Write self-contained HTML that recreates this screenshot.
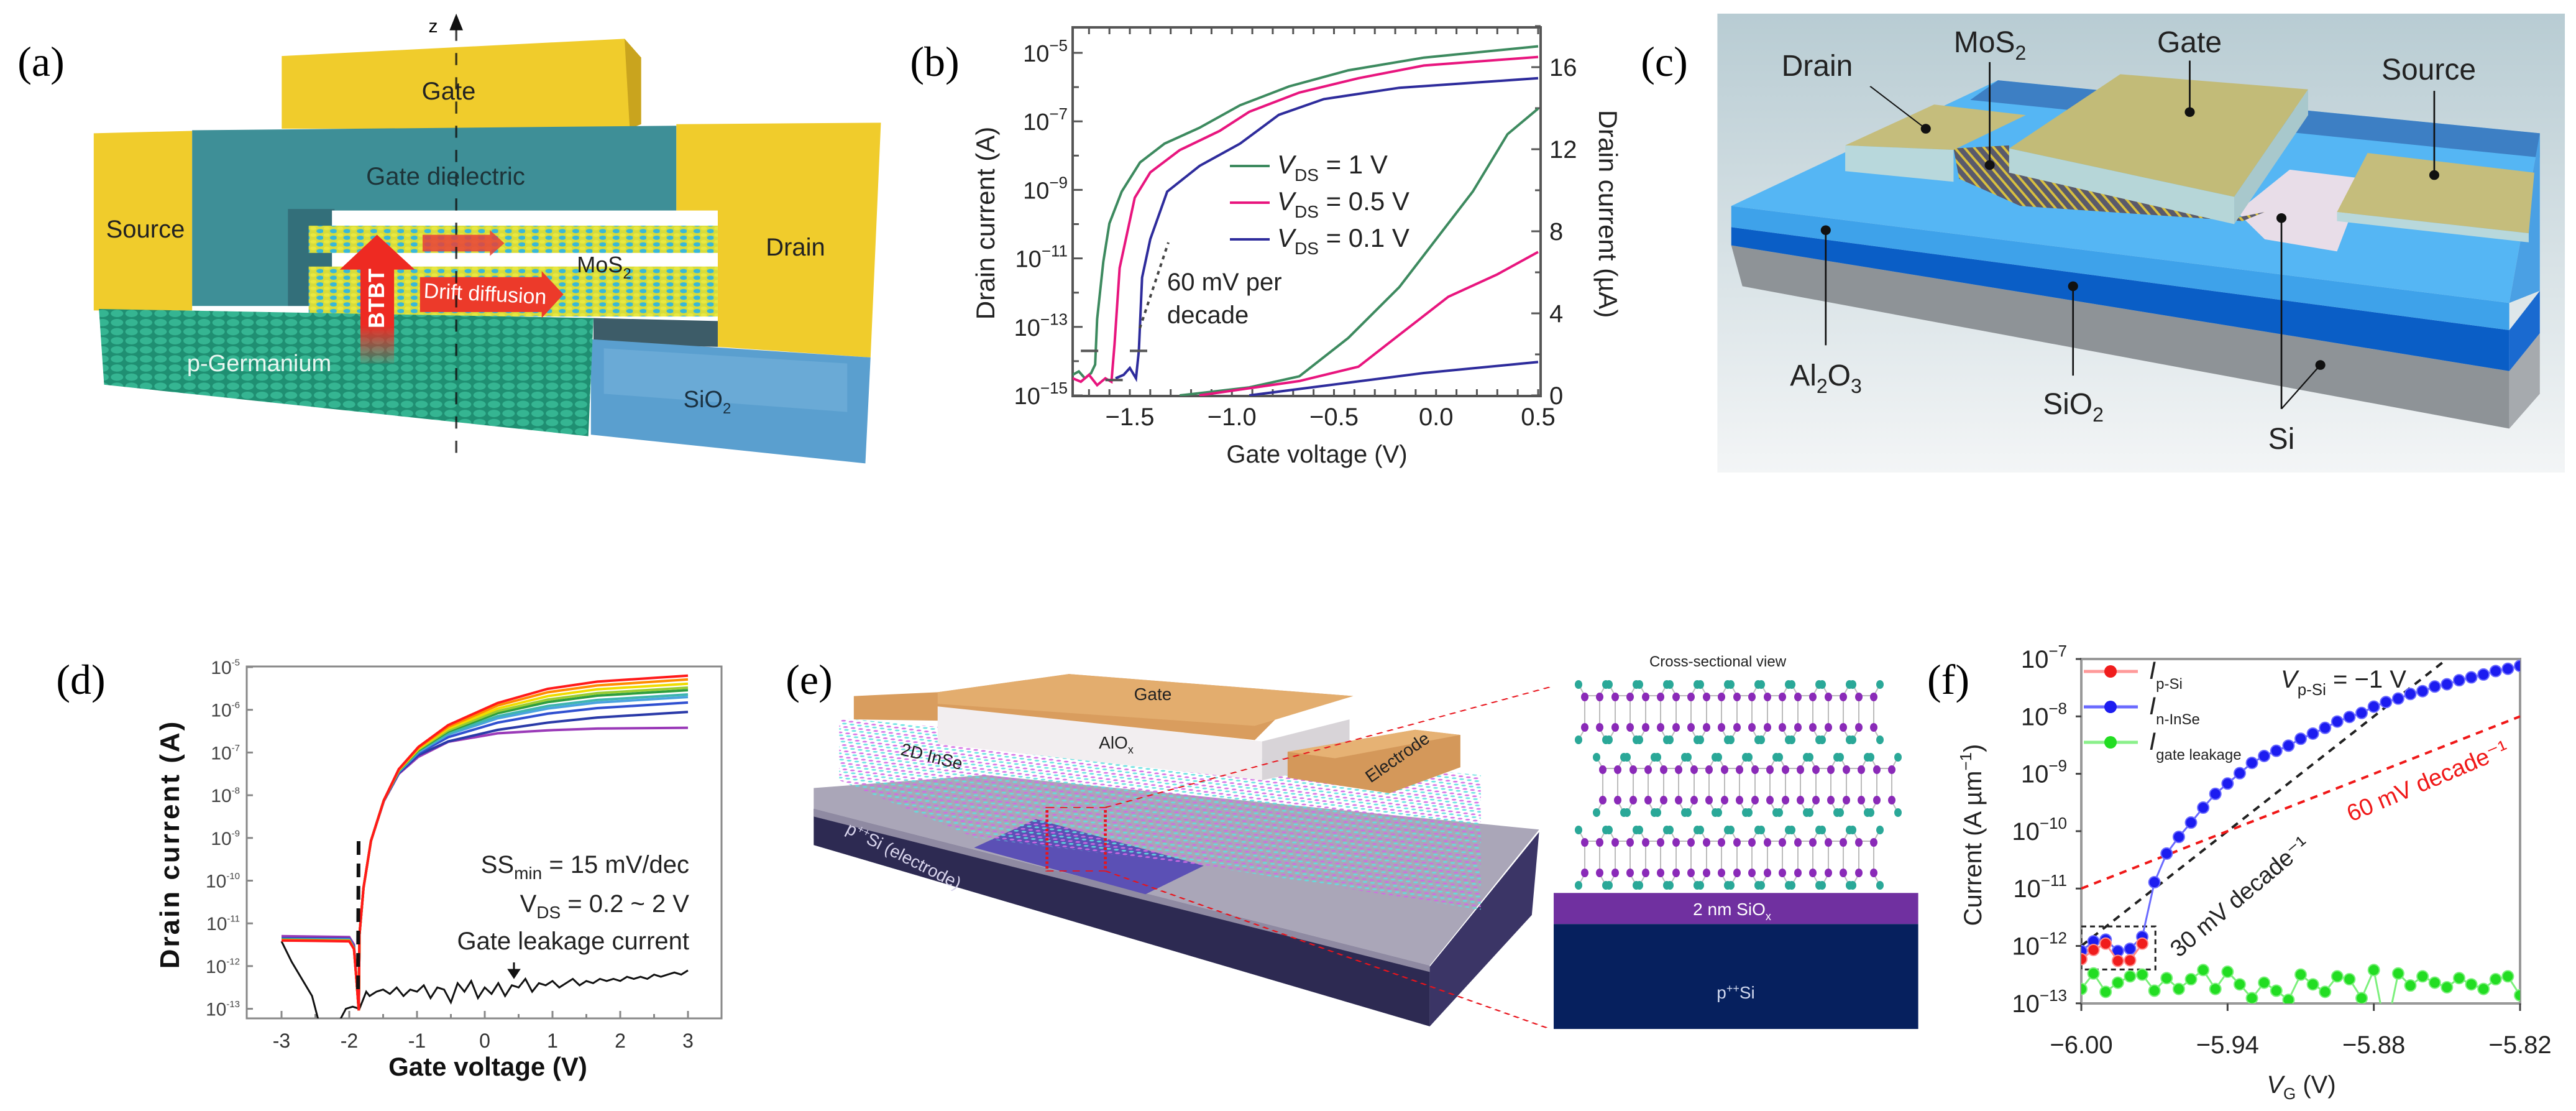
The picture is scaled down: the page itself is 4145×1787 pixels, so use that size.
<!DOCTYPE html>
<html><head><meta charset="utf-8">
<style>
html,body{margin:0;padding:0;background:#fff;}
svg{display:block;font-family:"Liberation Sans",sans-serif;}
.serif{font-family:"Liberation Serif",serif;}
.narrow{font-family:"Liberation Sans Narrow","Liberation Sans",sans-serif;}
</style></head>
<body>
<svg id="fig" xmlns="http://www.w3.org/2000/svg" width="4145" height="1787" viewBox="0 0 4145 1787">
<defs>
  <pattern id="mos" patternUnits="userSpaceOnUse" width="26" height="22">
    <rect width="26" height="22" fill="#d8dc3a"/>
    <circle cx="7" cy="6" r="6" fill="#e8e840"/>
    <circle cx="20" cy="15" r="7" fill="#38b8d8"/>
  </pattern>
  <pattern id="ge" patternUnits="userSpaceOnUse" width="28" height="30">
    <rect width="28" height="30" fill="#1f8f72"/>
    <circle cx="14" cy="15" r="12" fill="#35b592"/>
  </pattern>
  <pattern id="inse" patternUnits="userSpaceOnUse" width="11" height="22" patternTransform="rotate(20)">
    <circle cx="3" cy="5" r="3.4" fill="#d36ae6" opacity="0.9"/>
    <circle cx="8" cy="15" r="3.4" fill="#5ee0e0" opacity="0.9"/>
  </pattern>
  <pattern id="msc" patternUnits="userSpaceOnUse" width="16" height="40" patternTransform="rotate(-25)">
    <rect width="16" height="40" fill="#5a5a6a"/>
    <rect x="0" y="0" width="5" height="40" fill="#d8c040"/>
  </pattern>
  <linearGradient id="cbg" x1="0" y1="0" x2="0" y2="1">
    <stop offset="0" stop-color="#b8ccd3"/><stop offset="1" stop-color="#f3f5f6"/>
  </linearGradient>
  <linearGradient id="btbt" x1="0" y1="0" x2="0" y2="1">
    <stop offset="0" stop-color="#ee2a22"/><stop offset="0.7" stop-color="#ee2a22"/><stop offset="1" stop-color="#ee2a22" stop-opacity="0.1"/>
  </linearGradient>
  <clipPath id="clipB"><rect x="1726" y="44" width="753" height="593"/></clipPath>
  <clipPath id="clipD"><rect x="397" y="1072" width="764" height="566"/></clipPath>
  <clipPath id="clipF"><rect x="3349" y="1060" width="706" height="554"/></clipPath>
</defs>

<text class="serif" x="66" y="122" font-size="68" text-anchor="middle">(a)</text>
<text class="serif" x="1504" y="122" font-size="68" text-anchor="middle">(b)</text>
<text class="serif" x="2678" y="122" font-size="68" text-anchor="middle">(c)</text>
<text class="serif" x="130" y="1116" font-size="68" text-anchor="middle">(d)</text>
<text class="serif" x="1302" y="1116" font-size="68" text-anchor="middle">(e)</text>
<text class="serif" x="3135" y="1116" font-size="68" text-anchor="middle">(f)</text>

<g>
 <g transform="translate(130,0) scale(0.8333,0.4872)">
  <polygon points="388,185 1050,128 1082,190 1082,410 1060,425 388,425" fill="#f0cc2c"/>
  <polygon points="1050,128 1082,190 1082,410 1060,425" fill="#c9a41e"/>
  <polygon points="25,440 215,432 215,1025 25,1025" fill="#f0cc2c"/>
  <polygon points="215,430 1150,415 1150,1010 215,1010" fill="#3e8f97"/>
  <rect x="400" y="690" width="90" height="320" fill="#336f7a"/>
  <polygon points="1150,410 1545,405 1525,1180 1230,1145 1230,715 1150,715" fill="#f0cc2c"/>
  <rect x="485" y="695" width="745" height="360" fill="#ffffff"/>
  <rect x="440" y="745" width="790" height="90" fill="url(#mos)"/>
  <rect x="440" y="880" width="790" height="165" fill="url(#mos)"/>
  <polygon points="990,1050 1230,1060 1230,1145 990,1135" fill="#3d5c68"/>
  <polygon points="985,1120 1525,1180 1515,1530 985,1435" fill="#5a9fcf"/>
  <polygon points="1010,1150 1480,1200 1480,1360 1010,1300" fill="#6aaad6"/>
  <polygon points="35,1020 990,1050 980,1440 45,1270" fill="url(#ge)"/>
  <polygon points="540,1200 540,890 500,890 572,775 645,890 605,890 605,1200" fill="url(#btbt)"/>
  <polygon points="655,915 890,915 890,895 932,972 890,1050 890,1030 655,1030" fill="#ec3a2a"/>
  <polygon points="660,775 790,775 790,760 818,803 790,845 790,830 660,830" fill="#e8403a" opacity="0.85"/>
  <line x1="725" y1="95" x2="725" y2="1530" stroke="#111" stroke-width="4" stroke-dasharray="40,40" opacity="0.8"/>
  <polygon points="725,45 712,100 738,100" fill="#111"/>
 </g>
 <text x="697" y="52" font-size="30" text-anchor="middle">z</text>
 <text x="722" y="160" font-size="40" text-anchor="middle" fill="#222">Gate</text>
 <text x="717" y="297" font-size="40" text-anchor="middle" fill="#1d3338">Gate dielectric</text>
 <text x="234" y="382" font-size="40" text-anchor="middle" fill="#222">Source</text>
 <text x="1280" y="411" font-size="40" text-anchor="middle" fill="#222">Drain</text>
 <text x="972" y="438" font-size="36" text-anchor="middle" fill="#222">MoS<tspan font-size="24" dy="10">2</tspan></text>
 <text x="0" y="0" font-size="36" font-weight="bold" fill="#fff" text-anchor="middle" transform="translate(618,480) rotate(-90)">BTBT</text>
 <text x="780" y="484" font-size="34" fill="#fff" text-anchor="middle" transform="rotate(3,780,484)">Drift diffusion</text>
 <text x="417" y="597" font-size="38" fill="#e8f6f0" text-anchor="middle">p-Germanium</text>
 <text x="1138" y="655" font-size="38" fill="#1a3040" text-anchor="middle">SiO<tspan font-size="24" dy="10">2</tspan></text>
</g>

<g>
 <g transform="translate(2750,0) scale(0.8942,0.4872)">
  <rect x="15" y="45" width="1525" height="1515" fill="url(#cbg)"/>
  <polygon points="40,810 1440,1225 1440,1415 60,945" fill="#8e9397"/>
  <polygon points="1440,1225 1495,1100 1495,1300 1440,1415" fill="#a6aaae"/>
  <polygon points="40,750 1440,1090 1440,1225 40,810" fill="#0a5ec6"/>
  <polygon points="1440,1090 1495,960 1495,1100 1440,1225" fill="#1a6ad0"/>
  <polygon points="40,680 1440,1000 1440,1090 40,750" fill="#3ea2ea"/>
  <polygon points="40,680 520,265 1495,440 1440,1000" fill="#55b6f4"/>
  <polygon points="520,265 1495,440 1495,520 470,330" fill="#3d7fc4"/>
  <polygon points="1440,1000 1495,440 1495,960" fill="#4aa0e4"/>
  <polygon points="950,700 1045,560 1180,590 1130,830 1000,790" fill="#e8dde8"/>
  <polygon points="440,490 540,480 540,560 945,720 1000,700 960,730 560,680 450,590" fill="url(#msc)"/>
  <polygon points="245,480 405,345 570,380 440,495" fill="#c5bd7c"/>
  <polygon points="245,480 440,495 440,600 245,565" fill="#b8d8dc"/>
  <polygon points="540,490 740,245 1078,295 945,650" fill="#c2bb78"/>
  <polygon points="540,490 945,650 945,740 540,570" fill="#b6d6d8"/>
  <polygon points="945,650 1078,295 1078,380 945,740" fill="#a8c8cc"/>
  <polygon points="1130,700 1185,505 1485,570 1475,770" fill="#c5bd7c"/>
  <polygon points="1130,700 1475,770 1475,800 1130,730" fill="#b8d8dc"/>
  <g stroke="#111" stroke-width="3" fill="none">
   <line x1="290" y1="285" x2="390" y2="425"/>
   <line x1="505" y1="205" x2="505" y2="545"/>
   <line x1="865" y1="200" x2="865" y2="370"/>
   <line x1="1305" y1="300" x2="1305" y2="578"/>
   <line x1="210" y1="1140" x2="210" y2="760"/>
   <line x1="655" y1="1240" x2="655" y2="945"/>
   <line x1="1030" y1="1350" x2="1030" y2="720"/>
   <line x1="1030" y1="1350" x2="1100" y2="1205"/>
  </g>
  <g fill="#111">
   <ellipse cx="390" cy="425" rx="9" ry="16"/><ellipse cx="505" cy="545" rx="9" ry="16"/>
   <ellipse cx="865" cy="370" rx="9" ry="16"/><ellipse cx="1305" cy="578" rx="9" ry="16"/>
   <ellipse cx="210" cy="760" rx="9" ry="16"/><ellipse cx="655" cy="945" rx="9" ry="16"/>
   <ellipse cx="1030" cy="720" rx="9" ry="16"/><ellipse cx="1100" cy="1205" rx="9" ry="16"/>
  </g>
 </g>
 <text class="narrow" x="2924" y="122" font-size="48" text-anchor="middle" fill="#222">Drain</text>
 <text class="narrow" x="3202" y="84" font-size="48" text-anchor="middle" fill="#222">MoS<tspan font-size="32" dy="12">2</tspan></text>
 <text class="narrow" x="3523" y="84" font-size="48" text-anchor="middle" fill="#222">Gate</text>
 <text class="narrow" x="3908" y="128" font-size="48" text-anchor="middle" fill="#222">Source</text>
 <text class="narrow" x="2938" y="620" font-size="48" text-anchor="middle" fill="#222">Al<tspan font-size="32" dy="12">2</tspan><tspan dy="-12">O</tspan><tspan font-size="32" dy="12">3</tspan></text>
 <text class="narrow" x="3336" y="666" font-size="48" text-anchor="middle" fill="#222">SiO<tspan font-size="32" dy="12">2</tspan></text>
 <text class="narrow" x="3671" y="722" font-size="48" text-anchor="middle" fill="#222">Si</text>
</g>

<g>
 <g transform="translate(1280,1030) scale(1.1731,0.4167)">
  <polygon points="25,650 870,1260 870,1490 25,790" fill="#2d2a52"/>
  <polygon points="870,1260 1020,740 1010,1060 870,1490" fill="#3b3566"/>
  <polygon points="25,570 260,520 1020,730 870,1255 25,650" fill="#aaa6b8"/>
  <polygon points="25,650 870,1255 870,1280 25,680" fill="#8f8aa2"/>
  <polygon points="245,800 330,690 560,870 480,980" fill="#5b50b5"/>
  <polygon points="60,300 940,520 940,1040 560,870 245,760 60,540" fill="url(#inse)"/>
  <polygon points="195,250 640,390 640,540 195,400" fill="#f2eef0"/>
  <polygon points="640,390 760,305 760,470 640,540" fill="#d8d4d8"/>
  <polygon points="80,215 195,200 375,130 765,215 660,300 630,385 195,255 195,310 80,305" fill="#d99d5e"/>
  <polygon points="195,200 375,130 765,215 630,330 195,245" fill="#e3ad6e"/>
  <polygon points="675,430 850,345 912,365 912,490 815,590 675,530" fill="#d4985a"/>
  <polygon points="675,430 850,345 912,365 740,455" fill="#e6b274"/>
  <rect x="345" y="645" width="80" height="245" fill="none" stroke="#e8141c" stroke-width="4" stroke-dasharray="10,8"/>
  <line x1="425" y1="645" x2="1035" y2="180" stroke="#e8141c" stroke-width="4" stroke-dasharray="10,8"/>
  <line x1="425" y1="890" x2="1035" y2="1500" stroke="#e8141c" stroke-width="4" stroke-dasharray="10,8"/>
  <rect x="1040" y="975" width="500" height="120" fill="#7030a0"/>
  <rect x="1040" y="1095" width="500" height="405" fill="#06205e"/>
 </g>
 <g id="latticeE"></g>
 <text x="2764" y="1072" font-size="24" text-anchor="middle" fill="#222" class="narrow">Cross-sectional view</text>
 <text x="1855" y="1126" font-size="28" text-anchor="middle" fill="#222" class="narrow">Gate</text>
 <text x="1796" y="1204" font-size="28" text-anchor="middle" fill="#222" class="narrow">AlO<tspan font-size="18" dy="8">x</tspan></text>
 <text x="1497" y="1226" font-size="28" text-anchor="middle" fill="#222" class="narrow" transform="rotate(14,1497,1226)">2D InSe</text>
 <text x="2254" y="1226" font-size="28" text-anchor="middle" fill="#222" class="narrow" transform="rotate(-35,2254,1226)">Electrode</text>
 <text x="1450" y="1385" font-size="28" text-anchor="middle" fill="#d8d4ec" class="narrow" transform="rotate(27,1450,1385)">p<tspan font-size="18" dy="-10">++</tspan><tspan dy="10">Si (electrode)</tspan></text>
 <text x="2787" y="1472" font-size="28" text-anchor="middle" fill="#fff" class="narrow">2 nm SiO<tspan font-size="18" dy="8">x</tspan></text>
 <text x="2793" y="1606" font-size="28" text-anchor="middle" fill="#d0d8ee" class="narrow">p<tspan font-size="18" dy="-10">++</tspan><tspan dy="10">Si</tspan></text>
</g>

<g id="chartB"></g>
<g id="chartD"></g>
<g id="chartF"></g>
</svg>

<script>
const bGreenV = [-1.78,-1.75,-1.72,-1.69,-1.67,-1.66,-1.63,-1.60,-1.54,-1.45,-1.33,-1.16,-0.96,-0.72,-0.43,-0.06,0.5];
const bGreenLog = [-14.4,-14.3,-14.5,-14.35,-14.1,-12.77,-11.1,-9.98,-9.05,-8.2,-7.65,-7.19,-6.53,-5.98,-5.51,-5.14,-4.81];
const bPinkV = [-1.78,-1.74,-1.70,-1.66,-1.62,-1.59,-1.575,-1.55,-1.476,-1.40,-1.256,-1.06,-0.915,-0.67,-0.38,-0.06,0.5];
const bPinkLog = [-14.5,-14.6,-14.4,-14.7,-14.5,-14.6,-13.5,-11.28,-9.23,-8.49,-7.84,-7.28,-6.72,-6.16,-5.74,-5.37,-5.12];
const bBlueV = [-1.57,-1.53,-1.50,-1.47,-1.456,-1.44,-1.40,-1.317,-1.158,-0.96,-0.77,-0.55,-0.18,0.5];
const bBlueLog = [-14.5,-14.4,-14.2,-14.5,-13.7,-11.56,-10.44,-9.05,-8.3,-7.65,-6.81,-6.35,-6.02,-5.74];
const bGreenLinV = [-1.256,-0.915,-0.67,-0.43,-0.18,-0.06,0.18,0.35,0.5];
const bGreenLinUA = [0,0.39,0.93,2.8,5.28,6.83,9.94,12.73,13.98];
const bPinkLinV = [-1.16,-0.67,-0.38,-0.18,0.06,0.30,0.5];
const bPinkLinUA = [0,0.7,1.4,2.95,4.81,5.9,6.99];
const bBlueLinV = [-0.915,-0.43,-0.06,0.5];
const bBlueLinUA = [0,0.62,1.09,1.63];
const bLeftTicks = [-5,-7,-9,-11,-13,-15];
const bRightTicks = [0,4,8,12,16];
const bXTicks = [-1.5,-1.0,-0.5,0.0,0.5];
const bXTickLabels = ["\u22121.5","\u22121.0","\u22120.5","0.0","0.5"];
const bLegend = ["1 V","0.5 V","0.1 V"];

const dV = [-3,-2.0,-1.93,-1.89,-1.86,-1.85,-1.79,-1.68,-1.49,-1.27,-0.98,-0.54,0.19,0.93,1.66,3];
const dPurple = [-11.3,-11.32,-11.5,-12.4,-13.04,-11.27,-10.17,-9.07,-8.14,-7.5,-7.1,-6.75,-6.55,-6.48,-6.44,-6.42];
const dDarkBlue = [-11.35,-11.36,-11.55,-12.4,-13.04,-11.27,-10.17,-9.07,-8.13,-7.48,-7.06,-6.74,-6.47,-6.3,-6.18,-6.05];
const dBlue = [-11.36,-11.37,-11.56,-12.4,-13.04,-11.27,-10.17,-9.07,-8.12,-7.46,-7.02,-6.64,-6.3,-6.09,-5.96,-5.83];
const dLightBlue = [-11.37,-11.38,-11.57,-12.4,-13.04,-11.27,-10.17,-9.07,-8.12,-7.45,-6.99,-6.58,-6.2,-5.97,-5.83,-5.70];
const dTeal = [-11.38,-11.39,-11.58,-12.4,-13.04,-11.27,-10.17,-9.07,-8.12,-7.44,-6.97,-6.55,-6.15,-5.91,-5.77,-5.64];
const dGreen = [-11.38,-11.4,-11.58,-12.4,-13.04,-11.27,-10.17,-9.07,-8.12,-7.43,-6.95,-6.51,-6.08,-5.82,-5.67,-5.54];
const dLightGreen = [-11.39,-11.4,-11.59,-12.4,-13.04,-11.27,-10.17,-9.07,-8.12,-7.42,-6.93,-6.48,-6.03,-5.76,-5.61,-5.48];
const dYellow = [-11.39,-11.41,-11.59,-12.4,-13.04,-11.27,-10.17,-9.07,-8.12,-7.41,-6.91,-6.44,-5.97,-5.68,-5.52,-5.39];
const dOrange = [-11.4,-11.41,-11.6,-12.4,-13.04,-11.27,-10.17,-9.07,-8.12,-7.40,-6.89,-6.40,-5.90,-5.59,-5.43,-5.29];
const dRed = [-11.4,-11.42,-11.6,-12.4,-13.04,-11.27,-10.17,-9.07,-8.12,-7.39,-6.87,-6.36,-5.84,-5.51,-5.34,-5.20];
const leakV = [-3,-2.85,-2.7,-2.55,-2.45,-2.15,-2.05,-1.95,-1.85,-1.75,-1.7,-1.6,-1.5,-1.4,-1.3,-1.2,-1.1,-1.0,-0.9,-0.8,-0.7,-0.6,-0.5,-0.4,-0.3,-0.2,-0.1,0.0,0.1,0.2,0.3,0.4,0.5,0.6,0.7,0.8,0.9,1.0,1.1,1.2,1.3,1.4,1.5,1.6,1.7,1.8,1.9,2.0,2.1,2.2,2.3,2.4,2.5,2.6,2.7,2.8,2.9,3.0];
const leakLog = [-11.42,-11.9,-12.3,-12.7,-13.3,-13.3,-13.0,-12.95,-13.0,-12.6,-12.7,-12.6,-12.55,-12.65,-12.5,-12.7,-12.55,-12.6,-12.45,-12.75,-12.5,-12.55,-12.85,-12.4,-12.6,-12.35,-12.75,-12.5,-12.65,-12.4,-12.7,-12.45,-12.5,-12.3,-12.6,-12.4,-12.45,-12.35,-12.5,-12.4,-12.3,-12.45,-12.35,-12.4,-12.3,-12.35,-12.3,-12.35,-12.25,-12.3,-12.25,-12.3,-12.2,-12.25,-12.2,-12.15,-12.2,-12.1];
const dYTicks = [-5,-6,-7,-8,-9,-10,-11,-12,-13];
const dXTicks = [-3,-2,-1,0,1,2,3];

const fV = [-6.000,-5.995,-5.990,-5.985,-5.980,-5.975,-5.970,-5.965,-5.960,-5.955,-5.950,-5.945,-5.940,-5.935,-5.930,-5.925,-5.920,-5.915,-5.910,-5.905,-5.900,-5.895,-5.890,-5.885,-5.880,-5.875,-5.870,-5.865,-5.860,-5.855,-5.850,-5.845,-5.840,-5.835,-5.830,-5.825,-5.820];
const fBlue = [-12.09,-11.92,-11.89,-12.09,-12.05,-11.84,-10.89,-10.39,-10.10,-9.85,-9.59,-9.35,-9.17,-8.99,-8.81,-8.69,-8.60,-8.51,-8.39,-8.30,-8.20,-8.09,-8.01,-7.94,-7.83,-7.75,-7.69,-7.61,-7.56,-7.48,-7.44,-7.37,-7.32,-7.27,-7.21,-7.17,-7.12];
const fRedV = [-6.000,-5.995,-5.990,-5.985,-5.980,-5.975];
const fRed = [-12.23,-12.07,-11.96,-12.26,-12.25,-11.96];
const fGreen = [-12.75,-12.48,-12.80,-12.64,-12.53,-12.50,-12.78,-12.56,-12.75,-12.58,-12.42,-12.75,-12.45,-12.67,-12.91,-12.64,-12.78,-12.94,-12.50,-12.67,-12.80,-12.53,-12.58,-12.91,-12.42,-13.5,-12.48,-12.69,-12.53,-12.64,-12.72,-12.56,-12.67,-12.75,-12.58,-12.53,-12.86];
const fYTicks = [-7,-8,-9,-10,-11,-12,-13];
const fXTicks = [-6.00,-5.94,-5.88,-5.82];
const fXTickLabels = ["\u22126.00","\u22125.94","\u22125.88","\u22125.82"];
const f30mv = [-6.00,-12,-5.85,-7];
const f60mv = [-6.00,-11,-5.82,-8];

const NS = 'http://www.w3.org/2000/svg';
function el(tag, parent){ const e = document.createElementNS(NS, tag); parent.appendChild(e); return e; }
function pathFrom(xs, ys, fx, fy){ let d=''; for(let i=0;i<xs.length;i++){ d += (i?'L':'M') + fx(xs[i]).toFixed(1) + ',' + fy(ys[i]).toFixed(1); } return d; }
function sup(parent, x, y, base, ex, fs, fse, anchor){
  const t = el('text', parent);
  t.setAttribute('x', x); t.setAttribute('y', y); t.setAttribute('font-size', fs);
  t.setAttribute('text-anchor', anchor); t.setAttribute('fill', '#222');
  const a = el('tspan', t); a.textContent = base;
  const b = el('tspan', t); b.setAttribute('font-size', fse); b.setAttribute('dy', -fs*0.45); b.textContent = ex;
  return t;
}

(function(){
  const g = document.getElementById('chartB');
  const xB = v => 1818 + (v + 1.5) * 328.5;
  const yB = l => 85 + (-5 - l) * 55.1;
  const yR = u => 636 - u * 33;
  const frame = el('rect', g);
  
  
  frame.setAttribute('x', 1726); frame.setAttribute('y', 44); frame.setAttribute('width', 753); frame.setAttribute('height', 593);
  frame.setAttribute('fill', 'none'); frame.setAttribute('stroke', '#555'); frame.setAttribute('stroke-width', 4);
  for(let l=-15;l<=-5;l++){
    const t = el('line', g);
    t.setAttribute('x1', 1726); t.setAttribute('x2', l%2? 1742:1736); t.setAttribute('y1', yB(l)); t.setAttribute('y2', yB(l));
    t.setAttribute('stroke', '#555'); t.setAttribute('stroke-width', 3);
  }
  for(let v=-1.7; v<=0.51; v+=0.1){
    [637,44].forEach(yy=>{
      const t = el('line', g);
      t.setAttribute('x1', xB(v)); t.setAttribute('x2', xB(v)); t.setAttribute('y1', yy); t.setAttribute('y2', yy===637? 626:55);
      t.setAttribute('stroke', '#555'); t.setAttribute('stroke-width', 3);
    });
  }
  for(let u=0; u<=18; u+=2){
    const t = el('line', g);
    t.setAttribute('x1', 2479); t.setAttribute('x2', u%4? 2470:2464); t.setAttribute('y1', yR(u)); t.setAttribute('y2', yR(u));
    t.setAttribute('stroke', '#555'); t.setAttribute('stroke-width', 3);
  }
  bLeftTicks.forEach(l=>{
    const t = sup(g, 1718, yB(l)+14, '10', '\u2212'+(-l), 38, 26, 'end');
    
    
  });
  bRightTicks.forEach(u=>{
    const t = el('text', g);
    
    
    t.setAttribute('x', 2493); t.setAttribute('y', yR(u)+14); t.setAttribute('font-size', 40); t.setAttribute('fill', '#222');
    t.textContent = u;
  });
  bXTicks.forEach((v,i)=>{
    const t = el('text', g);
    
    
    t.setAttribute('x', xB(v)); t.setAttribute('y', 684); t.setAttribute('font-size', 40); t.setAttribute('text-anchor', 'middle'); t.setAttribute('fill', '#222');
    t.textContent = bXTickLabels[i];
  });
  const xt = el('text', g);
  
  
  xt.setAttribute('x', 2119); xt.setAttribute('y', 744); xt.setAttribute('font-size', 40); xt.setAttribute('text-anchor', 'middle'); xt.setAttribute('fill', '#222');
  xt.textContent = 'Gate voltage (V)';
  const yt = el('text', g);
  
  
  yt.setAttribute('transform', 'translate(1600,359) rotate(-90)'); yt.setAttribute('font-size', 42); yt.setAttribute('text-anchor', 'middle'); yt.setAttribute('fill', '#222');
  yt.textContent = 'Drain current (A)';
  const yt2 = el('text', g);
  
  
  yt2.setAttribute('transform', 'translate(2573,344) rotate(90)'); yt2.setAttribute('font-size', 42); yt2.setAttribute('text-anchor', 'middle'); yt2.setAttribute('fill', '#222');
  yt2.textContent = 'Drain current (\u00b5A)';
  const cg = el('g', g); cg.setAttribute('clip-path', 'url(#clipB)');
  const series = [
    [bGreenLinV,bGreenLinUA,'#3d8a5f',yR,'line-green-linear'],
    [bPinkLinV,bPinkLinUA,'#e8157e',yR,'line-pink-linear'],
    [bBlueLinV,bBlueLinUA,'#2e2c9c',yR,'line-blue-linear'],
    [bGreenV,bGreenLog,'#3d8a5f',yB,'line-green-log'],
    [bPinkV,bPinkLog,'#e8157e',yB,'line-pink-log'],
    [bBlueV,bBlueLog,'#2e2c9c',yB,'line-blue-log']];
  series.forEach(s=>{
    const p = el('path', cg);
    
    
    p.setAttribute('d', pathFrom(s[0], s[1], xB, s[3]));
    p.setAttribute('fill', 'none'); p.setAttribute('stroke', s[2]); p.setAttribute('stroke-width', 4);
  });
  [[-1.74,-1.62,-13.7],[-1.50,-1.41,-13.7],[-1.62,-1.52,-14.55]].forEach(m=>{
    const d = el('line', g);
    d.setAttribute('x1', xB(m[0])); d.setAttribute('x2', xB(m[1])); d.setAttribute('y1', yB(m[2])); d.setAttribute('y2', yB(m[2]));
    d.setAttribute('stroke', '#555'); d.setAttribute('stroke-width', 4); d.setAttribute('stroke-dasharray', '28,14');
  });
  const dl = el('line', g);
  
  
  dl.setAttribute('x1', 1834); dl.setAttribute('y1', 528); dl.setAttribute('x2', 1880); dl.setAttribute('y2', 390);
  dl.setAttribute('stroke', '#444'); dl.setAttribute('stroke-width', 4); dl.setAttribute('stroke-dasharray', '6,7');
  ['60 mV per','decade'].forEach((s,i)=>{
    const t = el('text', g);
    t.setAttribute('x', 1878); t.setAttribute('y', 467 + i*53); t.setAttribute('font-size', 40); t.setAttribute('fill', '#222');
    t.textContent = s;
  });
  const cols = ['#3d8a5f','#e8157e','#2e2c9c'];
  bLegend.forEach((lab,i)=>{
    const yy = 267 + i*59;
    const ln = el('line', g);
    
    
    ln.setAttribute('x1', 1979); ln.setAttribute('x2', 2043); ln.setAttribute('y1', yy); ln.setAttribute('y2', yy);
    ln.setAttribute('stroke', cols[i]); ln.setAttribute('stroke-width', 4);
    const t = el('text', g);
    
    
    t.setAttribute('x', 2055); t.setAttribute('y', yy+12); t.setAttribute('font-size', 42); t.setAttribute('fill', '#222');
    const a = el('tspan', t); a.setAttribute('font-style', 'italic'); a.textContent = 'V';
    const b = el('tspan', t); b.setAttribute('font-size', 28); b.setAttribute('dy', 12); b.textContent = 'DS';
    const c = el('tspan', t); c.setAttribute('dy', -12); c.textContent = ' = ' + lab;
  });
})();

(function(){
  const g = document.getElementById('chartD');
  const xD = v => 453 + (v + 3) * 109;
  const yD = l => 1073 + (-5 - l) * 68.7;
  const frame = el('rect', g);
  
  
  frame.setAttribute('x', 397); frame.setAttribute('y', 1072); frame.setAttribute('width', 764); frame.setAttribute('height', 566);
  frame.setAttribute('fill', 'none'); frame.setAttribute('stroke', '#888'); frame.setAttribute('stroke-width', 3);
  dYTicks.forEach(l=>{
    const t = el('line', g);
    t.setAttribute('x1', 397); t.setAttribute('x2', 407); t.setAttribute('y1', yD(l)); t.setAttribute('y2', yD(l));
    t.setAttribute('stroke', '#888'); t.setAttribute('stroke-width', 3);
    const lb = sup(g, 386, yD(l)+11, '10', '-'+(-l), 30, 15, 'end');
    
    
    lb.setAttribute('fill', '#444');
  });
  for(let v=-3; v<=3.01; v+=0.5){
    const t = el('line', g);
    t.setAttribute('x1', xD(v)); t.setAttribute('x2', xD(v)); t.setAttribute('y1', 1638); t.setAttribute('y2', Number.isInteger(v)? 1626:1631);
    t.setAttribute('stroke', '#888'); t.setAttribute('stroke-width', 3);
  }
  dXTicks.forEach(v=>{
    const t = el('text', g);
    
    
    t.setAttribute('x', xD(v)); t.setAttribute('y', 1685); t.setAttribute('font-size', 32); t.setAttribute('text-anchor', 'middle'); t.setAttribute('fill', '#333');
    t.textContent = v;
  });
  const xt = el('text', g);
  
  
  xt.setAttribute('x', 785); xt.setAttribute('y', 1730); xt.setAttribute('font-size', 42); xt.setAttribute('font-weight', 'bold'); xt.setAttribute('text-anchor', 'middle'); xt.setAttribute('fill', '#111');
  xt.textContent = 'Gate voltage (V)';
  const yt = el('text', g);
  
  
  yt.setAttribute('transform', 'translate(288,1358) rotate(-90)'); yt.setAttribute('font-size', 44); yt.setAttribute('font-weight', 'bold'); yt.setAttribute('letter-spacing', 3); yt.setAttribute('text-anchor', 'middle'); yt.setAttribute('fill', '#111');
  yt.textContent = 'Drain current (A)';
  const cg = el('g', g); cg.setAttribute('clip-path', 'url(#clipD)');
  const lk = el('path', cg);
  
  
  lk.setAttribute('d', pathFrom(leakV, leakLog, xD, yD));
  lk.setAttribute('fill', 'none'); lk.setAttribute('stroke', '#111'); lk.setAttribute('stroke-width', 3);
  const curves = [[dPurple,'#9a3ab8'],[dDarkBlue,'#2a3aa8'],[dBlue,'#3050d0'],[dLightBlue,'#4aa3df'],[dTeal,'#3fb5b0'],[dGreen,'#2e9e3e'],[dLightGreen,'#9acd32'],[dYellow,'#f0dc00'],[dOrange,'#ff8c00'],[dRed,'#ff1a1a']];
  curves.forEach(c=>{
    const p = el('path', cg);
    
    
    p.setAttribute('d', pathFrom(dV, c[0], xD, yD));
    p.setAttribute('fill', 'none'); p.setAttribute('stroke', c[1]); p.setAttribute('stroke-width', 4);
  });
  const dl = el('line', g);
  
  
  dl.setAttribute('x1', 577); dl.setAttribute('x2', 576); dl.setAttribute('y1', 1353); dl.setAttribute('y2', 1605);
  dl.setAttribute('stroke', '#111'); dl.setAttribute('stroke-width', 6); dl.setAttribute('stroke-dasharray', '22,14');
  const ann = [['SS','min',' = 15 mV/dec',1404],['V','DS',' = 0.2 ~ 2 V',1467]];
  ann.forEach(a=>{
    const t = el('text', g);
    
    
    t.setAttribute('class', 'narrow');
    t.setAttribute('x', 1109); t.setAttribute('y', a[3]); t.setAttribute('font-size', 40); t.setAttribute('text-anchor', 'end'); t.setAttribute('fill', '#222');
    const s1 = el('tspan', t); s1.textContent = a[0];
    const s2 = el('tspan', t); s2.setAttribute('font-size', 28); s2.setAttribute('dy', 10); s2.textContent = a[1];
    const s3 = el('tspan', t); s3.setAttribute('dy', -10); s3.textContent = a[2];
  });
  const gl = el('text', g);
  
  
  gl.setAttribute('class', 'narrow');
  gl.setAttribute('x', 1109); gl.setAttribute('y', 1527); gl.setAttribute('font-size', 40); gl.setAttribute('text-anchor', 'end'); gl.setAttribute('fill', '#222');
  gl.textContent = 'Gate leakage current';
  const ar = el('path', g);
  
  
  ar.setAttribute('d', 'M827,1548 L827,1566 M819,1560 L827,1572 L835,1560 Z');
  ar.setAttribute('stroke', '#111'); ar.setAttribute('stroke-width', 3); ar.setAttribute('fill', '#111');
})();

(function(){
  const g = document.getElementById('chartF');
  const xF = v => 3349 + (v + 6) / 0.18 * 706;
  const yF = l => 1060 + (-7 - l) * 92.3;
  const frame = el('rect', g);
  
  
  frame.setAttribute('x', 3349); frame.setAttribute('y', 1060); frame.setAttribute('width', 706); frame.setAttribute('height', 554);
  frame.setAttribute('fill', 'none'); frame.setAttribute('stroke', '#999'); frame.setAttribute('stroke-width', 4);
  fYTicks.forEach(l=>{
    const t = el('line', g);
    t.setAttribute('x1', 3349); t.setAttribute('x2', 3340); t.setAttribute('y1', yF(l)); t.setAttribute('y2', yF(l));
    t.setAttribute('stroke', '#444'); t.setAttribute('stroke-width', 3);
    const lb = sup(g, 3326, yF(l)+14, '10', '\u2212'+(-l), 40, 26, 'end');
    
    
  });
  fXTicks.forEach((v,i)=>{
    const t = el('line', g);
    t.setAttribute('x1', xF(v)); t.setAttribute('x2', xF(v)); t.setAttribute('y1', 1614); t.setAttribute('y2', 1626);
    t.setAttribute('stroke', '#444'); t.setAttribute('stroke-width', 3);
    const lb = el('text', g);
    
    
    lb.setAttribute('x', xF(v)); lb.setAttribute('y', 1694); lb.setAttribute('font-size', 40); lb.setAttribute('text-anchor', 'middle'); lb.setAttribute('fill', '#222');
    lb.textContent = fXTickLabels[i];
  });
  const xt = el('text', g);
  
  
  xt.setAttribute('x', 3703); xt.setAttribute('y', 1758); xt.setAttribute('font-size', 40); xt.setAttribute('text-anchor', 'middle'); xt.setAttribute('fill', '#222');
  const xa = el('tspan', xt); xa.setAttribute('font-style', 'italic'); xa.textContent = 'V';
  const xb = el('tspan', xt); xb.setAttribute('font-size', 26); xb.setAttribute('dy', 10); xb.textContent = 'G';
  const xc = el('tspan', xt); xc.setAttribute('dy', -10); xc.textContent = ' (V)';
  const yt = el('text', g);
  
  
  yt.setAttribute('transform', 'translate(3188,1343) rotate(-90)'); yt.setAttribute('font-size', 40); yt.setAttribute('text-anchor', 'middle'); yt.setAttribute('fill', '#222');
  const ya = el('tspan', yt); ya.textContent = 'Current (A \u00b5m';
  const yb = el('tspan', yt); yb.setAttribute('font-size', 26); yb.setAttribute('dy', -16); yb.textContent = '\u22121';
  const yc = el('tspan', yt); yc.setAttribute('dy', 16); yc.textContent = ')';
  const cg = el('g', g); cg.setAttribute('clip-path', 'url(#clipF)');
  const g30 = el('line', cg);
  
  
  g30.setAttribute('x1', xF(f30mv[0])); g30.setAttribute('y1', yF(f30mv[1])); g30.setAttribute('x2', xF(f30mv[2])); g30.setAttribute('y2', yF(f30mv[3]));
  g30.setAttribute('stroke', '#222'); g30.setAttribute('stroke-width', 4); g30.setAttribute('stroke-dasharray', '12,10');
  const g60 = el('line', cg);
  
  
  g60.setAttribute('x1', xF(f60mv[0])); g60.setAttribute('y1', yF(f60mv[1])); g60.setAttribute('x2', xF(f60mv[2])); g60.setAttribute('y2', yF(f60mv[3]));
  g60.setAttribute('stroke', '#f01818'); g60.setAttribute('stroke-width', 4); g60.setAttribute('stroke-dasharray', '12,10');
  const box = el('rect', cg);
  
  
  box.setAttribute('x', xF(-6.0)); box.setAttribute('y', yF(-11.66)); box.setAttribute('width', xF(-5.9696)-xF(-6.0)); box.setAttribute('height', yF(-12.41)-yF(-11.66));
  box.setAttribute('fill', 'none'); box.setAttribute('stroke', '#222'); box.setAttribute('stroke-width', 3); box.setAttribute('stroke-dasharray', '8,6');
  const sers = [[fV,fGreen,'#7cf07c','#22dd22','series-gate-leakage'],[fV,fBlue,'#6b6bff','#1c1cf0','series-n-inse'],[fRedV,fRed,'#ff8a8a','#f01c1c','series-p-si']];
  sers.forEach(s=>{
    const p = el('path', cg);
    
    
    p.setAttribute('d', pathFrom(s[0], s[1], xF, yF));
    p.setAttribute('fill', 'none'); p.setAttribute('stroke', s[2]); p.setAttribute('stroke-width', 3);
    for(let i=0;i<s[0].length;i++){
      const c = el('circle', cg);
      
      
      c.setAttribute('cx', xF(s[0][i])); c.setAttribute('cy', yF(s[1][i])); c.setAttribute('r', 9);
      c.setAttribute('fill', s[3]); c.setAttribute('stroke', s[2]); c.setAttribute('stroke-width', 2);
    }
  });
  const leg = [['#ff9a9a','#f01c1c','p-Si'],['#6b6bff','#1c1cf0','n-InSe'],['#8af08a','#22dd22','gate leakage']];
  leg.forEach((L,i)=>{
    const yy = 1080 + i*57;
    const ln = el('line', g);
    
    
    ln.setAttribute('x1', 3353); ln.setAttribute('x2', 3440); ln.setAttribute('y1', yy); ln.setAttribute('y2', yy);
    ln.setAttribute('stroke', L[0]); ln.setAttribute('stroke-width', 5);
    const mk = el('circle', g);
    
    
    mk.setAttribute('cx', 3396); mk.setAttribute('cy', yy); mk.setAttribute('r', 10); mk.setAttribute('fill', L[1]);
    const t = el('text', g);
    
    
    t.setAttribute('x', 3458); t.setAttribute('y', yy+12); t.setAttribute('font-size', 40); t.setAttribute('fill', '#222');
    const a = el('tspan', t); a.setAttribute('font-style', 'italic'); a.textContent = 'I';
    const b = el('tspan', t); b.setAttribute('font-size', 24); b.setAttribute('dy', 16); b.textContent = L[2];
  });
  const vp = el('text', g);
  
  
  vp.setAttribute('x', 3670); vp.setAttribute('y', 1106); vp.setAttribute('font-size', 40); vp.setAttribute('fill', '#222');
  const v1 = el('tspan', vp); v1.setAttribute('font-style', 'italic'); v1.textContent = 'V';
  const v2 = el('tspan', vp); v2.setAttribute('font-size', 26); v2.setAttribute('dy', 12); v2.textContent = 'p-Si';
  const v3 = el('tspan', vp); v3.setAttribute('dy', -12); v3.textContent = ' = \u22121 V';
  const t30 = el('text', g);
  
  
  t30.setAttribute('transform', 'translate(3612,1452) rotate(-40)'); t30.setAttribute('font-size', 38); t30.setAttribute('text-anchor', 'middle'); t30.setAttribute('fill', '#222');
  t30.textContent = '30 mV decade\u207b\u00b9';
  const t60 = el('text', g);
  
  
  t60.setAttribute('transform', 'translate(3911,1268) rotate(-23)'); t60.setAttribute('font-size', 38); t60.setAttribute('text-anchor', 'middle'); t60.setAttribute('fill', '#f01818');
  t60.textContent = '60 mV decade\u207b\u00b9';
})();

(function(){
  const g = document.getElementById('latticeE');
  const layers = [[2540,1101,1190],[2569,1218,1307],[2540,1335,1424]];
  layers.forEach(L=>{
    for(let i=0;i<10;i++){
      const x0 = L[0] + i*49;
      const ln = el('path', g);
      ln.setAttribute('d', 'M'+x0+','+L[1]+' L'+(x0+10)+','+(L[1]+18)+' L'+(x0+10)+','+(L[2]-18)+' L'+x0+','+L[2]+' M'+(x0+10)+','+(L[1]+18)+' L'+(x0+34)+','+(L[1]+18)+' L'+(x0+44)+','+L[1]+' M'+(x0+34)+','+(L[1]+18)+' L'+(x0+34)+','+(L[2]-18)+' L'+(x0+44)+','+L[2]);
      ln.setAttribute('stroke', '#bbb'); ln.setAttribute('stroke-width', 2); ln.setAttribute('fill', 'none');
      [[x0,L[1],'#2aa898'],[x0,L[2],'#2aa898'],[x0+44,L[1],'#2aa898'],[x0+44,L[2],'#2aa898'],
       [x0+10,L[1]+20,'#8a2ab8'],[x0+10,L[2]-20,'#8a2ab8'],[x0+34,L[1]+20,'#8a2ab8'],[x0+34,L[2]-20,'#8a2ab8']].forEach(a=>{
        const c = el('ellipse', g);
        c.setAttribute('cx', a[0]); c.setAttribute('cy', a[1]); c.setAttribute('rx', 6); c.setAttribute('ry', 7); c.setAttribute('fill', a[2]);
      });
    }
  });
})();
</script>
</body></html>
